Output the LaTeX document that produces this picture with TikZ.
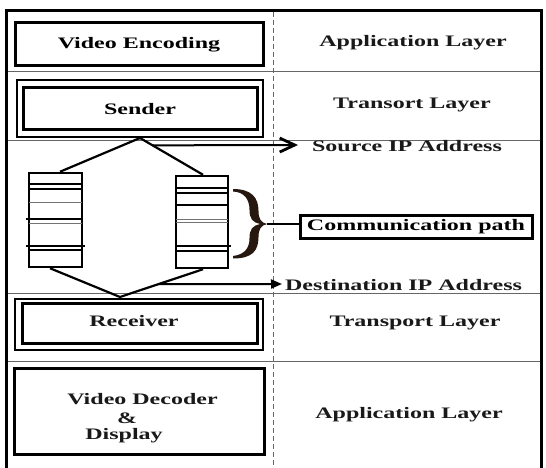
\documentclass[tikz,border=0pt]{standalone}
\usepackage{fontspec}
\setmainfont{Liberation Serif}
\usepackage{graphicx}
\usetikzlibrary{arrows.meta,calc}
\newcommand{\wtxt}[1]{\scalebox{1.5}[1]{#1}}
\begin{document}
\begin{tikzpicture}[x=1pt,y=-1pt,
  lbl/.style={font=\fontsize{16}{18}\selectfont\bfseries, inner sep=0pt, text=black!90},
  thickbox/.style={draw=black, line width=3pt, inner sep=0pt, font=\fontsize{16}{18}\selectfont\bfseries},
  stackbox/.style={draw=black, line width=2.5pt, inner sep=0pt},
  thinrule/.style={draw=black!60, line width=1pt},
  stkthick/.style={draw=black, line width=2pt},
  stkthin/.style={draw=black!55, line width=1pt},
  diam/.style={draw=black, line width=2.2pt, line join=miter},
  arrowline/.style={draw=black, line width=2pt},
  bracecol/.style={fill={rgb,255:red,38;green,24;blue,14}}
]
\useasboundingbox (0,0) rectangle (546,468);
\fill[white] (0,0) rectangle (546,468);

% horizontal rules
\draw[thinrule] (7,72) -- (540,72);
\draw[thinrule] (7,141) -- (540,141);
\draw[thinrule] (7,293) -- (540,293);
\draw[thinrule] (7,361) -- (540,361);

% dashed divider
\draw[black!60, line width=0.9pt, dash pattern=on 5pt off 3pt] (273,12) -- (273,468);

% outer frame
\draw[line width=3pt] (6,472) -- (6,11) -- (541,11) -- (541,472);

% left column boxes
\node[thickbox, minimum width=248pt, minimum height=43pt] (enc) at (139,44.5) {\wtxt{Video Encoding}};
\node[draw=black, line width=2pt, inner sep=0pt, minimum width=246pt, minimum height=57pt] (sendo) at (140,108.5) {};
\node[thickbox, minimum width=234pt, minimum height=42pt] (sendi) at (140,109) {\wtxt{Sender}};

\node[draw=black, line width=2.5pt, inner sep=0pt, minimum width=248pt, minimum height=51pt] (recvo) at (139,324.5) {};
\node[thickbox, minimum width=235pt, minimum height=40pt] (recvi) at (139.5,323) {};
\node[lbl] (recvt) at (134,321) {\wtxt{Receiver}};

\node[thickbox, minimum width=250pt, minimum height=86pt] (dec) at (139,411) {};
\node[lbl] (dec1) at (142.5,399) {\wtxt{Video Decoder}};
\node[lbl] (dec2) at (127,418) {\wtxt{\&}};
\node[lbl] (dec3) at (124,436) {\wtxt{Display}};

% right column labels
\node[lbl] (app1) at (413,43) {\wtxt{Application Layer}};
\node[lbl] (tr1) at (412,105) {\wtxt{Transort Layer}};
\node[lbl] (src) at (407,146.5) {\wtxt{Source IP Address}};
\node[thickbox, minimum width=232pt, minimum height=23pt] (comm) at (416,226.5) {\wtxt{Communication path}};
\node[lbl] (dst) at (403.5,285.5) {\wtxt{Destination IP Address}};
\node[lbl] (tr2) at (415,323) {\wtxt{Transport Layer}};
\node[lbl] (app2) at (409,415) {\wtxt{Application Layer}};

% stacks
\node[stackbox, minimum width=53pt, minimum height=94pt] (L) at (55.5,220) {};
\node[stackbox, minimum width=52pt, minimum height=92pt] (R) at (202,222) {};

\draw[stkthick] (29,184) -- (82,184);
\draw[stkthick] (29,189) -- (82,189);
\draw[stkthin] (29,202) -- (82,202);
\draw[stkthick] (26,219) -- (82,219);
\draw[stkthin] (29,223) -- (82,223);
\draw[stkthick] (26,245.5) -- (85,245.5);
\draw[stkthick] (29,249.5) -- (82,249.5);

\draw[stkthick] (176,188) -- (228,188);
\draw[stkthick] (176,192.5) -- (228,192.5);
\draw[stkthick] (176,205) -- (228,205);
\draw[stkthin] (176,219) -- (228,219);
\draw[stkthin] (176,222) -- (228,222);
\draw[stkthick] (176,246) -- (231,246);
\draw[stkthick] (176,250.5) -- (228,250.5);

% diamond connectors
\coordinate (tv) at (sendo.south);
\coordinate (lt) at ($(L.north)+(4.5,0)$);
\coordinate (rt) at ($(R.north)+(1,0)$);
\coordinate (lb) at ($(L.south)+(-5.5,0)$);
\coordinate (rb) at ($(R.south)+(1,0)$);
\coordinate (bv) at (120,297);
\draw[diam] (lt) -- (tv) -- (rt);
\draw[diam] (lb) -- (bv) -- (rb);

% arrows
\coordinate (srcend) at (298,145);
\coordinate (dstend) at (282,284);
\draw[arrowline, -{Straight Barb[length=15pt,width=14pt,line width=2.8pt]}] ($(tv)!0.2!(rt)$) -- (srcend);
\draw[arrowline, -{Triangle[length=11pt,width=9pt]}] ($(rb)!0.54!(bv)$) -- (dstend);

% brace
\coordinate (bracetip) at (267,224);
\path[bracecol] (233,189) .. controls (252,189) and (258.5,198) .. (258.5,211)
  .. controls (258.5,219) and (261,222.5) .. (267,224)
  .. controls (261,225.5) and (258.5,229) .. (258.5,237)
  .. controls (258.5,251) and (252,258.5) .. (233,258.5)
  -- (233,256)
  .. controls (244,254.5) and (249.5,249) .. (249.5,238)
  .. controls (249.5,229) and (253,225.5) .. (260,224)
  .. controls (253,222.5) and (249.5,219) .. (249.5,210)
  .. controls (249.5,199) and (244,192) .. (233,191.5) -- cycle;
\draw[line width=1.5pt] (bracetip) -- (comm.west |- bracetip);
\end{tikzpicture}
\end{document}
